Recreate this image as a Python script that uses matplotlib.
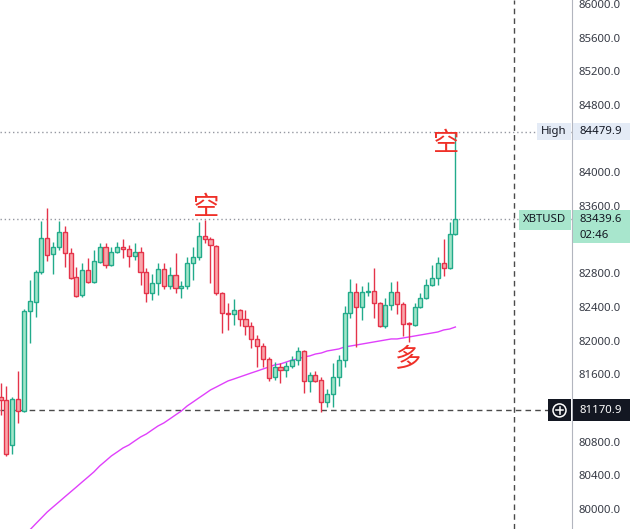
import numpy as np
import matplotlib
matplotlib.use('Agg')
import matplotlib.pyplot as plt
from matplotlib.patches import Rectangle, Circle
from matplotlib.lines import Line2D
from matplotlib.transforms import IdentityTransform

# 1-bar candles
opens = [81331, 81295, 80760, 81307, 81164, 82352, 82459, 82816, 83220, 83029,
         83113, 83291, 83041, 82756, 82542, 82840, 82697, 82934, 83113, 82899,
         83053, 83113, 83089, 83006, 83053, 82816, 82566, 82685, 82851, 82649,
         82780, 82626, 82649, 82923, 82994, 83243, 83208, 83125, 82566, 82329,
         82317, 82364, 82257, 82174, 82020, 81937, 81782, 81568, 81687, 81651,
         81699, 81770, 81877, 81521, 81592, 81533, 81271, 81366, 81568, 81770,
         82329, 82578, 82400, 82578, 82590, 82447, 82174, 82424, 82578, 82435,
         82210, 82186, 82400, 82507, 82661, 82744, 82923, 82863, 83267]
highs = [81497, 81461, 81331, 81640, 82376, 82721, 82840, 83422, 83576, 83172,
         83422, 83362, 83101, 82875, 82923, 82982, 83077, 83160, 83160, 83113,
         83172, 83208, 83136, 83160, 83113, 82863, 82792, 82923, 82923, 82875,
         83041, 82709, 82994, 83113, 83410, 83433, 83231, 83136, 82580, 82447,
         82495, 82376, 82364, 82222, 82067, 81972, 81806, 81746, 81734, 81746,
         81818, 81925, 81889, 81628, 81640, 81568, 81426, 81734, 81830, 82412,
         82732, 82685, 82649, 82697, 82863, 82459, 82507, 82697, 82709, 82459,
         82222, 82447, 82566, 82732, 82899, 82994, 83208, 83410, 84479.9]
lows = [81117, 80630, 80653, 81022, 81150, 81972, 82281, 82792, 82946, 82792,
        83077, 82875, 82732, 82519, 82519, 82685, 82685, 82923, 82863, 82887,
        83041, 82982, 82875, 82958, 82661, 82459, 82483, 82542, 82614, 82614,
        82566, 82507, 82614, 82721, 82958, 83160, 82685, 82540, 82091, 82127,
        82186, 82174, 82067, 81913, 81687, 81687, 81521, 81533, 81497, 81568,
        81675, 81711, 81378, 81390, 81509, 81152, 81212, 81212, 81461, 81687,
        82269, 81925, 82245, 82531, 82269, 82162, 82150, 82364, 82317, 82055,
        81984, 82174, 82390, 82495, 82649, 82661, 82768, 82851, 83250]
closes = [81295, 80653, 81307, 81164, 82352, 82471, 82816, 83220, 83018, 83113,
          83291, 83041, 82744, 82531, 82840, 82697, 82946, 83113, 82899, 83053,
          83113, 83089, 83006, 83053, 82816, 82566, 82685, 82851, 82649, 82780,
          82626, 82649, 82923, 82994, 83243, 83208, 83136, 82566, 82329, 82317,
          82364, 82257, 82174, 82020, 81937, 81782, 81556, 81687, 81651, 81699,
          81770, 81877, 81521, 81592, 81521, 81271, 81366, 81568, 81770, 82329,
          82578, 82400, 82578, 82590, 82447, 82174, 82424, 82578, 82435, 82198,
          82198, 82400, 82507, 82661, 82744, 82923, 82863, 83267, 83439.6]
# moving average (magenta line)
ma = [79394, 79465, 79537, 79608, 79679, 79750, 79822, 79893, 79964, 80024,
      80083, 80143, 80202, 80261, 80321, 80380, 80440, 80511, 80570, 80630,
      80677, 80725, 80760, 80808, 80855, 80891, 80939, 80986, 81022, 81069,
      81117, 81164, 81224, 81271, 81319, 81366, 81414, 81449, 81485, 81521,
      81544, 81568, 81592, 81616, 81639, 81663, 81687, 81711, 81723, 81746,
      81770, 81782, 81806, 81818, 81841, 81853, 81877, 81889, 81901, 81925,
      81936, 81948, 81960, 81972, 81984, 81996, 82008, 82020, 82020, 82031,
      82043, 82055, 82067, 82079, 82091, 82103, 82127, 82138, 82162]

high_price = 84479.9
last_price = 83439.6
symbol = 'XBTUSD'
countdown = '02:46'
cross_bar = 88
cross_price = 81170.9

# hand-drawn marks on the chart
note_text = ['空', '空', '多']
note_bar = [35.3, 76.5, 69.8]
note_price = [83576, 84348, 81770]

W, H = 630, 529
UP_FILL, UP_EDGE = '#a2e5c9', '#22ab8b'
DN_FILL, DN_EDGE = '#f9a6ab', '#e5334a'

plt.rcParams['font.family'] = ['Noto Sans', 'DejaVu Sans']

fig = plt.figure(figsize=(W / 100, H / 100), dpi=100)
fig.patch.set_facecolor('white')
ax = fig.add_axes([0, 0, 572 / W, 1])

x = np.arange(len(opens))
o = np.array(opens)
c = np.array(closes)
up = c >= o
edge = np.where(up, UP_EDGE, DN_EDGE)
fill = np.where(up, UP_FILL, DN_FILL)

ax.vlines(x, lows, highs, colors=edge, linewidth=1, zorder=2)
body_h = np.maximum(np.abs(c - o), 8)
ax.bar(x, body_h, bottom=np.minimum(o, c), width=0.7, color=fill,
       edgecolor=edge, linewidth=1, zorder=3)

ax.plot(x, ma, color='#e040fb', linewidth=1, zorder=1)

ax.axhline(high_price, color='#9598a1', linestyle=(0, (1, 2)), linewidth=1, zorder=0)
ax.axhline(last_price, color='#9598a1', linestyle=(0, (1, 2)), linewidth=1, zorder=0)
ax.axhline(cross_price, color='#4a4a4a', linestyle=(0, (4, 3)), linewidth=1, zorder=0)
ax.axvline(cross_bar, color='#4a4a4a', linestyle=(0, (4, 3)), linewidth=1, zorder=0)

for t, b, p in zip(note_text, note_bar, note_price):
    ax.text(b, p, t, fontsize=19, color='#ef3028', ha='center', va='center',
            family=['Noto Sans CJK SC', 'DejaVu Sans'], zorder=4)

ax.set_xlim(-0.1, 98.0)
ax.set_ylim(79762, 86047)
ticks = np.arange(80000, 86001, 400)
ax.set_yticks(ticks)
# the price tags cover these levels
hidden = [84400, 83200, 81200]
ax.set_yticklabels(['' if t in hidden else '%.1f' % t for t in ticks])
ax.yaxis.tick_right()
ax.tick_params(axis='y', length=0, pad=5, labelsize=8.2, labelcolor='#363a45')
ax.set_xticks([])
for s in ['top', 'left', 'bottom']:
    ax.spines[s].set_visible(False)
ax.spines['right'].set_color('#b2b5be')


def box(x0, y0, x1, y1, color):
    # pixel box (top-left origin) drawn over the figure
    fig.add_artist(Rectangle((x0 / W, 1 - y1 / H), (x1 - x0) / W, (y1 - y0) / H,
                             transform=fig.transFigure, facecolor=color,
                             edgecolor='none', zorder=5))


def label(xp, yp, s, color='#131722', ha='left'):
    fig.text(xp / W, 1 - yp / H, s, color=color, fontsize=8.2, ha=ha,
             va='center', zorder=6)


def ypix(p):
    return H - ax.transData.transform((0, p))[1]


yh = ypix(high_price)
box(537, yh - 8.5, 571, yh + 8.5, '#e4ebf6')
box(573, yh - 8.5, 630, yh + 8.5, '#e4ebf6')
label(554, yh, 'High', ha='center')
label(579, yh, '%.1f' % high_price)

yl = ypix(last_price)
box(519, yl - 9.5, 571, yl + 10.5, '#a8e6cd')
box(573, yl - 9.5, 630, yl + 23.5, '#a8e6cd')
label(545, yl + 0.5, symbol, ha='center')
label(579, yl + 0.5, '%.1f' % last_price)
label(579, yl + 16, countdown)

yc = ypix(cross_price)
box(548, yc - 11, 571, yc + 11, '#131722')
box(573, yc - 11, 630, yc + 11, '#131722')
label(579, yc, '%.1f' % cross_price, color='white')
cx, cy = 559.5, H - yc
fig.add_artist(Circle((cx, cy), 6.5, transform=IdentityTransform(), fill=False,
                      edgecolor='white', linewidth=1.1, zorder=6))
fig.add_artist(Line2D([cx - 3.5, cx + 3.5], [cy, cy], transform=IdentityTransform(),
                      color='white', linewidth=1.1, zorder=6))
fig.add_artist(Line2D([cx, cx], [cy - 3.5, cy + 3.5], transform=IdentityTransform(),
                      color='white', linewidth=1.1, zorder=6))

fig.savefig('out.png', dpi=100)
